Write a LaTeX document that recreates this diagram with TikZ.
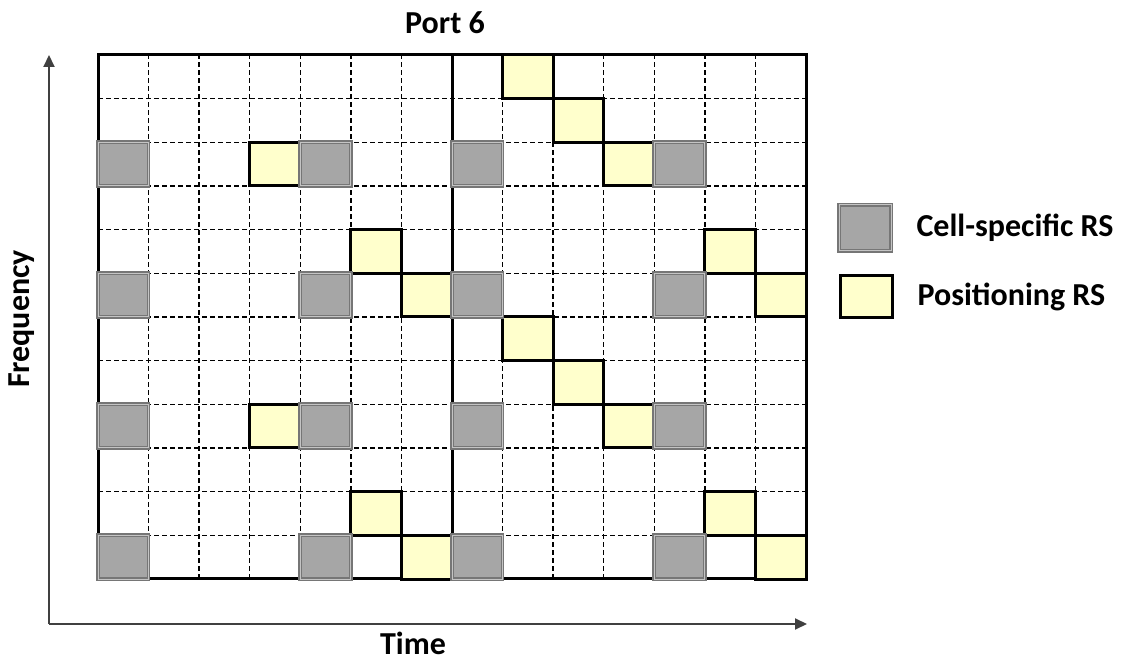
\documentclass[tikz,border=0pt]{standalone}
\usepackage{fontspec}
\setmainfont{Carlito}
\usetikzlibrary{arrows.meta, positioning}
\definecolor{rsfill}{HTML}{A6A6A6}
\definecolor{rsedge}{HTML}{767676}
\definecolor{rsinner}{HTML}{C4C4C4}
\definecolor{prsfill}{HTML}{FFFFCC}
\definecolor{axiscol}{HTML}{404040}
\newcommand{\cw}{50.571}
\newcommand{\ch}{43.667}

\begin{document}
\begin{tikzpicture}[x=1pt, y=1pt,
    lbl/.style={font=\fontsize{32}{38}\selectfont\bfseries},
    cell/.style={minimum width=\cw pt, minimum height=\ch pt, inner sep=0pt,
      outer sep=0pt},
    crs/.style={cell, fill=rsfill, draw=rsedge, line width=1.4pt,
      double=rsinner, double distance=1pt},
    prs/.style={cell, fill=prsfill, draw=black, line width=3pt},
    dgrid/.style={black, line width=1.4pt, dash pattern=on 5pt off 3pt},
    frame/.style={black, line width=3pt},
    ax/.style={axiscol, line width=2pt, -{Triangle[length=12pt, width=11pt]}}]
  \useasboundingbox[fill=white] (0,0) rectangle (1127,661);
  % dashed grid
  \foreach \c in {1,...,6,8,9,...,13}
    \draw[dgrid] ({98+\c*\cw},82) -- ({98+\c*\cw},606);
  \foreach \r in {1,...,11}
    \draw[dgrid] (98,{606-\r*\ch}) -- (806,{606-\r*\ch});
  % frame and subframe border
  \draw[frame] (98,82) rectangle (806,606);
  \draw[frame] ({98+7*\cw},82) -- ({98+7*\cw},606);
  % positioning RS
  \foreach \c/\r in {8/0,9/1,10/2,3/2,5/4,12/4,6/5,13/5,
                     8/6,9/7,10/8,3/8,5/10,12/10,6/11,13/11}
    \node[prs] (p\c-\r) at ({98+(\c+0.5)*\cw},{606-(\r+0.5)*\ch}) {};
  % cell-specific RS
  \foreach \r in {2,5,8,11}
    \foreach \c in {0,4,7,11}
      \node[crs] (g\c-\r) at ({98+(\c+0.5)*\cw},{606-(\r+0.5)*\ch}) {};
  % axes
  \coordinate (orig) at (49,37);
  \coordinate (ftip) at (49,606);
  \coordinate (ttip) at (807,37);
  \draw[ax] (orig) -- (ftip);
  \draw[ax] (orig) -- (ttip);
  \node[lbl] (port) at (445,638) {Port 6};
  \node[lbl] (time) at (413,18) {Time};
  \node[lbl, rotate=90] (freq) at (22,342) {Frequency};
  % legend
  \node[crs, minimum width=52pt, minimum height=46pt] (keycrs) at (865,433) {};
  \node[lbl, right=22pt of keycrs] (keycrstxt) {Cell-specific RS};
  \node[prs, minimum width=52pt, minimum height=42pt] (keyprs) at (866,364) {};
  \node[lbl, right=22pt of keyprs] (keyprstxt) {Positioning RS};
\end{tikzpicture}
\end{document}
